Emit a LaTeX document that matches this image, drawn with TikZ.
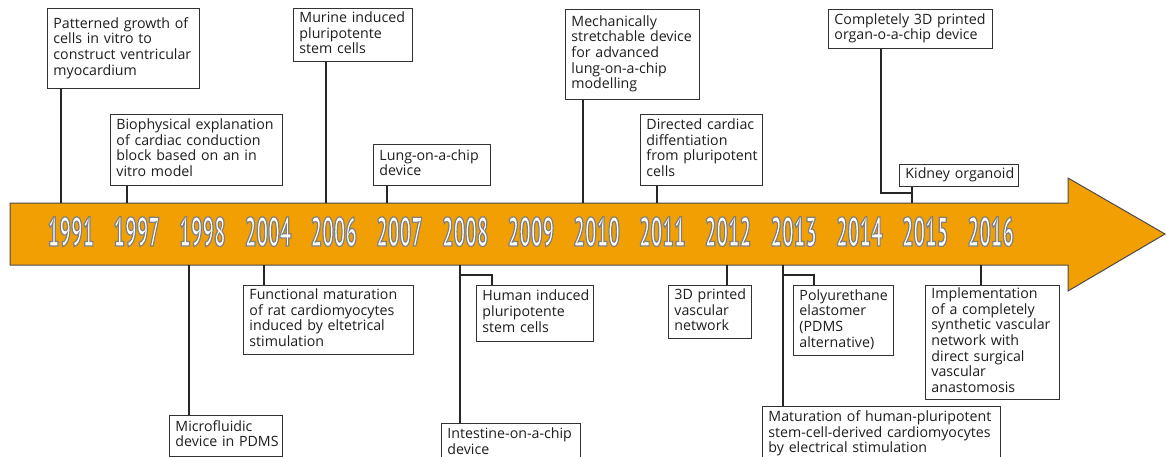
\documentclass[tikz,border=0pt]{standalone}
\usepackage{fontspec}
\setmainfont{Open Sans}
\newfontfamily\yearfont[FakeStretch=0.5]{PT Sans Bold}
\definecolor{barfill}{RGB}{241,159,2}
\definecolor{barline}{RGB}{75,75,75}
\definecolor{boxline}{RGB}{50,50,50}
\definecolor{inktext}{RGB}{30,30,30}

% white digits with a thin gray outline (fill, then stroke the glyphs)
\newcommand\outlined[1]{{\color{white}%
  \special{pdf:literal direct 0.5 G 1.2 w 2 Tr}#1\special{pdf:literal direct 0 Tr}}}

% boxed event: name, x1, y1, x2, y2, lines
\newcommand\eventbox[6]{%
  \pgfmathsetmacro\evw{#4-#2-12}%
  \pgfmathsetmacro\evh{#5-#3}%
  \node[evbox, anchor=north west, minimum height=\evh pt, text width=\evw pt]
    (#1) at (#2,#3) {\noindent\begin{tabular}{@{}l@{}}#6\end{tabular}};}

\begin{document}
\begin{tikzpicture}[x=1pt,y=-1pt,
  evbox/.style={draw=boxline, line width=0.9pt, fill=white, inner xsep=6pt, inner ysep=0pt,
    font=\fontsize{14.2}{15.7}\selectfont, text=inktext, align=left},
  conn/.style={draw=black!85, line width=1.1pt},
  yearlbl/.style={anchor=base, inner sep=0pt, font=\yearfont\fontsize{41}{41}\selectfont}]
\useasboundingbox (0,0) rectangle (1166,456);

% timeline arrow
\path[draw=barline, line width=1pt, fill=barfill, line join=miter]
  (10,203) -- (1068,203) -- (1068,178) -- (1165,234) -- (1068,291)
  -- (1068,265) -- (10,265) -- cycle;

% years
\foreach \yr [count=\i from 0] in {1991,1997,1998,2004,2006,2007,2008,2009,2010,2011,2012,2013,2014,2015,2016}
  \node[yearlbl] (y\yr) at ({71+65.7*\i},246) {\outlined{\yr}};

% events above the bar
\eventbox{e1991}{47}{8}{199}{88}{Patterned growth of\\cells in vitro to\\construct ventricular\\myocardium}
\eventbox{e1997}{110}{114}{282}{185}{Biophysical explanation\\of cardiac conduction\\block based on an in\\vitro model}
\eventbox{e2006}{293}{8}{412}{61}{Murine induced\\pluripotente\\stem cells}
\eventbox{e2007}{373}{144}{490}{185}{Lung-on-a-chip\\device}
\eventbox{e2010}{565}{9}{699}{99}{Mechanically\\stretchable device\\for advanced\\lung-on-a-chip\\modelling}
\eventbox{e2011}{640}{114}{762}{185}{Directed cardiac\\diffentiation\\from pluripotent\\cells}
\eventbox{e2015a}{828}{9}{992}{48}{Completely 3D printed\\organ-o-a-chip device}
\eventbox{e2015b}{899}{164}{1018}{186}{Kidney organoid}

% events below the bar
\eventbox{e1998}{169}{415}{282}{456}{Microfluidic\\device in PDMS}
\eventbox{e2004}{243}{285}{413}{354}{Functional maturation\\of rat cardiomyocytes\\induced by eltetrical\\stimulation}
\eventbox{e2008a}{476}{285}{593}{341}{Human induced\\pluripotente\\stem cells}
\eventbox{e2008b}{441}{423}{580}{463}{Intestine-on-a-chip\\device}
\eventbox{e2012}{668}{285}{751}{338}{3D printed\\vascular\\network}
\eventbox{e2013a}{793}{285}{893}{355}{Polyurethane\\elastomer\\(PDMS\\alternative)}
\eventbox{e2013b}{762}{406}{1000}{461}{Maturation of human-pluripotent\\stem-cell-derived cardiomyocytes\\by electrical stimulation}
\eventbox{e2016}{925}{285}{1059}{399}{Implementation\\of a completely\\synthetic vascular\\network with\\direct surgical\\vascular\\anastomosis}

% attachment points on the bar edges
\coordinate (t1991) at (61,203);
\coordinate (t1997) at (127,203);
\coordinate (t2006) at (326,203);
\coordinate (t2007) at (387,203);
\coordinate (t2010) at (583,203);
\coordinate (t2011) at (657,203);
\coordinate (t2015) at (912,203);
\coordinate (k2015) at (881,193);
\coordinate (b1998) at (189,265);
\coordinate (b2004) at (264,265);
\coordinate (b2008) at (460,265);
\coordinate (k2008) at (460,275);
\coordinate (h2008) at (492,285);
\coordinate (b2012) at (727,265);
\coordinate (b2013) at (783,265);
\coordinate (k2013) at (783,275);
\coordinate (h2013) at (814,285);
\coordinate (b2016) at (981,265);

% connectors
\draw[conn] (e1991.south -| t1991) -- (t1991);
\draw[conn] (e1997.south -| t1997) -- (t1997);
\draw[conn] (e2006.south -| t2006) -- (t2006);
\draw[conn] (e2007.south -| t2007) -- (t2007);
\draw[conn] (e2010.south -| t2010) -- (t2010);
\draw[conn] (e2011.south -| t2011) -- (t2011);
\draw[conn] (e2015a.south -| k2015) -- (k2015) -| (t2015);
\draw[conn] (e2015b.south -| t2015) -- (t2015);
\draw[conn] (b1998) -- (e1998.north -| b1998);
\draw[conn] (b2004) -- (e2004.north -| b2004);
\draw[conn] (b2008) -- (e2008b.north -| b2008);
\draw[conn] (k2008) -| (h2008);
\draw[conn] (b2012) -- (e2012.north -| b2012);
\draw[conn] (b2013) -- (e2013b.north -| b2013);
\draw[conn] (k2013) -| (h2013);
\draw[conn] (b2016) -- (e2016.north -| b2016);
\end{tikzpicture}
\end{document}
